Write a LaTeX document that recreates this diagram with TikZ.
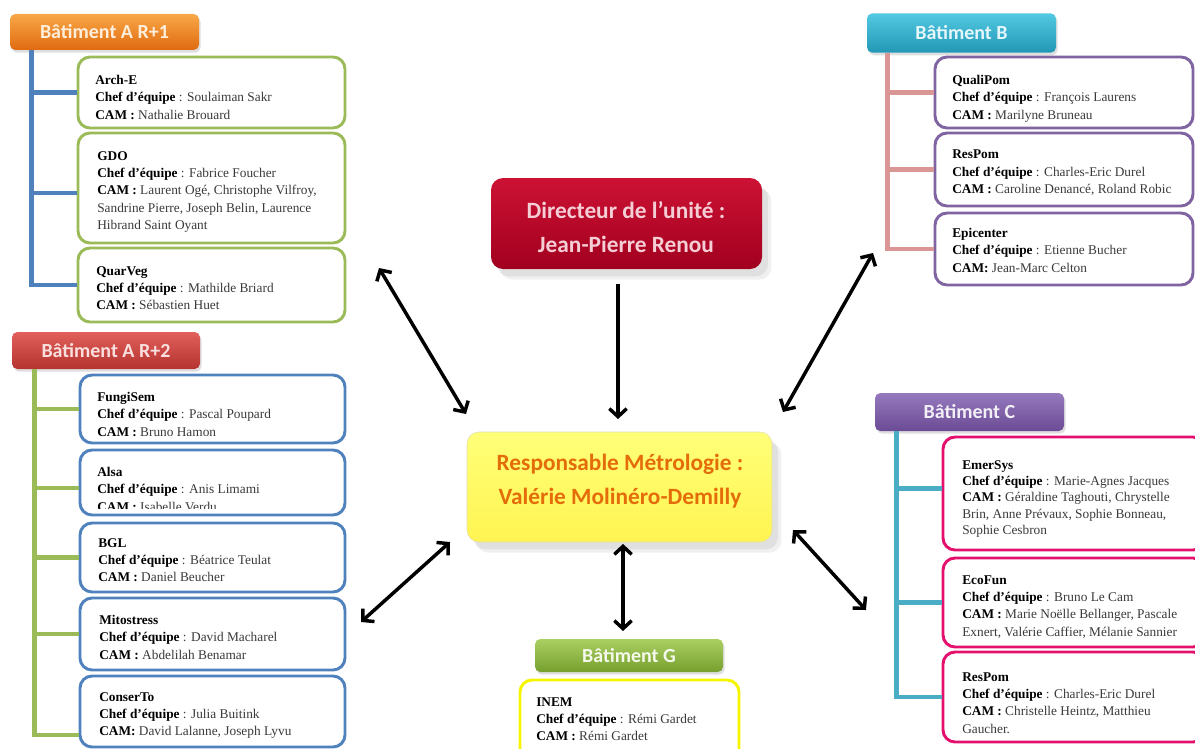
\documentclass[tikz,border=0pt]{standalone}
\usepackage{fontspec}
\setmainfont{Liberation Serif}
\newfontfamily\calib{Carlito}
\usetikzlibrary{arrows.meta,shadows,fit}
\definecolor{txt}{HTML}{3A3A3A}
\definecolor{cBlue}{HTML}{4F81BD}
\definecolor{cGreen}{HTML}{9BBB59}
\definecolor{cPurple}{HTML}{8064A2}
\definecolor{cPink}{HTML}{E3106E}
\definecolor{cSalmon}{HTML}{D99694}
\definecolor{cCyan}{HTML}{4BACC6}
\definecolor{cYel}{HTML}{F5F500}
\definecolor{orT}{HTML}{F8A848}
\definecolor{orB}{HTML}{E06A10}
\definecolor{rdT}{HTML}{E2605A}
\definecolor{rdB}{HTML}{B53330}
\definecolor{cyT}{HTML}{52C8E2}
\definecolor{cyB}{HTML}{2298B6}
\definecolor{puT}{HTML}{9579BD}
\definecolor{puB}{HTML}{6B4B95}
\definecolor{grT}{HTML}{AACF62}
\definecolor{grB}{HTML}{76A02E}
\definecolor{dirT}{HTML}{CC1234}
\definecolor{dirB}{HTML}{A2001F}
\definecolor{dirTx}{HTML}{F4CDD5}
\definecolor{yelT}{HTML}{FFFF78}
\definecolor{yelB}{HTML}{FFF452}
\definecolor{respTx}{HTML}{E46C0A}
\tikzset{
  tbox/.style={draw, line width=2.2pt, rounded corners=9pt, fill=white, inner sep=0pt},
  ttext/.style={anchor=north west, align=left, inner sep=0pt, text=txt, font=\fontsize{10}{13}\selectfont},
  hdr/.style={rounded corners=4pt, inner sep=0pt, font=\calib\bfseries\fontsize{15}{18}\selectfont,
    drop shadow={opacity=0.25, shadow xshift=1.2pt, shadow yshift=-2pt}},
  ctext/.style={align=center, inner sep=0pt, font=\calib\bfseries\fontsize{17.5}{26}\selectfont},
  cbox/.style={rounded corners=9pt, inner sep=0pt,
    drop shadow={opacity=0.12, shadow xshift=7pt, shadow yshift=-8pt},
    drop shadow={opacity=0.14, shadow xshift=4.5pt, shadow yshift=-5.5pt}},
  tree/.style={line width=3.5pt},
  arr/.style={line width=2.6pt, -{Straight Barb[length=6pt,width=13pt]}},
  darr/.style={line width=2.6pt, {Straight Barb[length=6pt,width=13pt]}-{Straight Barb[length=6pt,width=13pt]}},
}
\newcommand\bb[1]{\textbf{\color{black}#1}}
\begin{document}
\begin{tikzpicture}[x=0.75pt,y=-0.75pt]
\useasboundingbox (0,0) rectangle (1195,749);
\clip (0,0) rectangle (1195,749);

% ---------- centre ----------
\node[cbox, top color=dirT, bottom color=dirB, fit={(491,178) (762,269)}] (dir) {};
\node[ctext, text=dirTx] (dirT) at (626,227) {Directeur de l’unité :\\Jean-Pierre Renou};
\node[cbox, draw=yelB!70!black!40, line width=0.4pt, top color=yelT, bottom color=yelB, fit={(467,432) (772,542)}] (resp) {};
\node[ctext, text=respTx] (respT) at (620,481) {Responsable Métrologie :\\Valérie Molinéro-Demilly};

% ---------- Bâtiment A R+1 ----------
\node[hdr, top color=orT, bottom color=orB, text=white!80!orT, minimum width=141.75pt, minimum height=27pt] (hA1) at (104.5,32) {Bâtiment A R+1};
\node[tbox, draw=cGreen, fit={(78,57) (345,128)}] (archE) {};
\node[tbox, draw=cGreen, fit={(78,133) (345,243)}] (gdo) {};
\node[tbox, draw=cGreen, fit={(78,248) (345,322)}] (quarveg) {};
\draw[tree, cBlue] (hA1.south west) ++(22,0) |- (archE.west);
\draw[tree, cBlue] (hA1.south west) ++(22,0) |- ([yshift=-3.75pt]gdo.west);
\draw[tree, cBlue] (hA1.south west) ++(22,0) |- (quarveg.west);
\node[ttext] (archEt) at (95,75) {\bb{Arch-E}\\\bb{Chef d'équipe} : Soulaiman Sakr\\\bb{CAM :} Nathalie Brouard};
\node[ttext] (gdot) at (97,151) {\bb{GDO}\\\bb{Chef d'équipe} : Fabrice Foucher\\\bb{CAM :} Laurent Ogé, Christophe Vilfroy,\\Sandrine Pierre, Joseph Belin, Laurence\\Hibrand Saint Oyant};
\node[ttext] (quarvegt) at (96,266) {\bb{QuarVeg}\\\bb{Chef d'équipe} : Mathilde Briard\\\bb{CAM :} Sébastien Huet};

% ---------- Bâtiment A R+2 ----------
\node[hdr, top color=rdT, bottom color=rdB, text=white!80!rdT, minimum width=141pt, minimum height=27.75pt] (hA2) at (106,350.5) {Bâtiment A R+2};
\node[tbox, draw=cBlue, fit={(80,375) (345,443)}] (fungi) {};
\node[tbox, draw=cBlue, fit={(80,450) (345,515)}] (alsa) {};
\node[tbox, draw=cBlue, fit={(80,523) (345,592)}] (bgl) {};
\node[tbox, draw=cBlue, fit={(80,598) (345,670)}] (mito) {};
\node[tbox, draw=cBlue, fit={(80,676) (345,747)}] (conserto) {};
\draw[tree, cGreen] (hA2.south west) ++(23,0) |- (fungi.west);
\draw[tree, cGreen] (hA2.south west) ++(23,0) |- ([yshift=-4pt]alsa.west);
\draw[tree, cGreen] (hA2.south west) ++(23,0) |- (bgl.west);
\draw[tree, cGreen] (hA2.south west) ++(23,0) |- (mito.west);
\draw[tree, cGreen] (hA2.south west) ++(23,0) |- ([yshift=-17.6pt]conserto.west);
\node[ttext] (fungit) at (97,392) {\bb{FungiSem}\\\bb{Chef d'équipe} : Pascal Poupard\\\bb{CAM :} Bruno Hamon};
\begin{scope}
\clip (82,452) rectangle (343,508);
\node[ttext] (alsat) at (97,467) {\bb{Alsa}\\\bb{Chef d'équipe} : Anis Limami\\\bb{CAM :} Isabelle Verdu};
\end{scope}
\node[ttext] (bglt) at (98,538) {\bb{BGL}\\\bb{Chef d'équipe} : Béatrice Teulat\\\bb{CAM :} Daniel Beucher};
\node[ttext] (mitot) at (99,615) {\bb{Mitostress}\\\bb{Chef d'équipe} : David Macharel\\\bb{CAM :} Abdelilah Benamar};
\node[ttext] (consertot) at (99,692) {\bb{ConserTo}\\\bb{Chef d'équipe} : Julia Buitink\\\bb{CAM:} David Lalanne, Joseph Lyvu};

% ---------- Bâtiment B ----------
\node[hdr, top color=cyT, bottom color=cyB, text=white!85!cyT, minimum width=141.75pt, minimum height=29.5pt] (hB) at (961.5,33) {Bâtiment B};
\node[tbox, draw=cPurple, fit={(935,57) (1193,128)}] (quali) {};
\node[tbox, draw=cPurple, fit={(935,133) (1193,206)}] (respomB) {};
\node[tbox, draw=cPurple, fit={(935,213) (1193,285)}] (epi) {};
\draw[tree, cSalmon] (hB.south west) ++(21,0) |- (quali.west);
\draw[tree, cSalmon] (hB.south west) ++(21,0) |- (respomB.west);
\draw[tree, cSalmon] (hB.south west) ++(21,0) |- (epi.west);
\node[ttext] (qualit) at (952,75) {\bb{QualiPom}\\\bb{Chef d'équipe} : François Laurens\\\bb{CAM :} Marilyne Bruneau};
\node[ttext] (respomBt) at (952,150) {\bb{ResPom}\\\bb{Chef d'équipe} : Charles-Eric Durel\\\bb{CAM :} Caroline Denancé, Roland Robic};
\node[ttext] (epit) at (952,228) {\bb{Epicenter}\\\bb{Chef d'équipe} : Etienne Bucher\\\bb{CAM:} Jean-Marc Celton};

% ---------- Bâtiment C ----------
\node[hdr, top color=puT, bottom color=puB, text=white!88!puT, minimum width=141.75pt, minimum height=28.5pt] (hC) at (969.5,412) {Bâtiment C};
\node[tbox, draw=cPink, fit={(943,437) (1205,550)}] (emer) {};
\node[tbox, draw=cPink, fit={(943,558) (1205,647)}] (ecofun) {};
\node[tbox, draw=cPink, fit={(943,652) (1205,742)}] (respomC) {};
\draw[tree, cCyan] (hC.south west) ++(22,0) |- ([yshift=4pt]emer.west);
\draw[tree, cCyan] (hC.south west) ++(22,0) |- (ecofun.west);
\draw[tree, cCyan] (hC.south west) ++(22,0) |- (respomC.west);
\node[ttext, font=\fontsize{10}{12.3}\selectfont] (emert) at (962,460) {\bb{EmerSys}\\\bb{Chef d'équipe} : Marie-Agnes Jacques\\\bb{CAM :} Géraldine Taghouti, Chrystelle\\Brin, Anne Prévaux, Sophie Bonneau,\\Sophie Cesbron};
\begin{scope}
\clip (945,560) rectangle (1198,637);
\node[ttext] (ecofunt) at (962,575) {\bb{EcoFun}\\\bb{Chef d'équipe} : Bruno Le Cam\\\bb{CAM :} Marie Noëlle Bellanger, Pascale\\Exnert, Valérie Caffier, Mélanie Sannier};
\end{scope}
\node[ttext] (respomCt) at (962,672) {\bb{ResPom}\\\bb{Chef d'équipe} : Charles-Eric Durel\\\bb{CAM :} Christelle Heintz, Matthieu\\Gaucher.};

% ---------- Bâtiment G ----------
\node[hdr, top color=grT, bottom color=grB, text=white!88!grT, minimum width=141pt, minimum height=24.75pt] (hG) at (629,655.5) {Bâtiment G};
\node[tbox, draw=cYel, fit={(520,680) (739,762)}] (inem) {};
\node[ttext] (inemt) at (536,697) {\bb{INEM}\\\bb{Chef d'équipe} : Rémi Gardet\\\bb{CAM :} Rémi Gardet};

% ---------- arrows ----------
\coordinate (d1) at (618,284);
\coordinate (d2) at (618,419);
\draw[arr] (d1) -- (d2);
\coordinate (g1) at (623,544);
\coordinate (g2) at (623,631);
\draw[darr] (g1) -- (g2);
\coordinate (tl1) at (379,268);
\coordinate (tl2) at (466,414);
\draw[darr] (tl1) -- (tl2);
\coordinate (tr1) at (873,253);
\coordinate (tr2) at (783,412);
\draw[darr] (tr1) -- (tr2);
\coordinate (bl1) at (450,542);
\coordinate (bl2) at (361,622);
\draw[darr] (bl1) -- (bl2);
\coordinate (br1) at (793,530);
\coordinate (br2) at (866,610);
\draw[darr] (br1) -- (br2);
\end{tikzpicture}
\end{document}
